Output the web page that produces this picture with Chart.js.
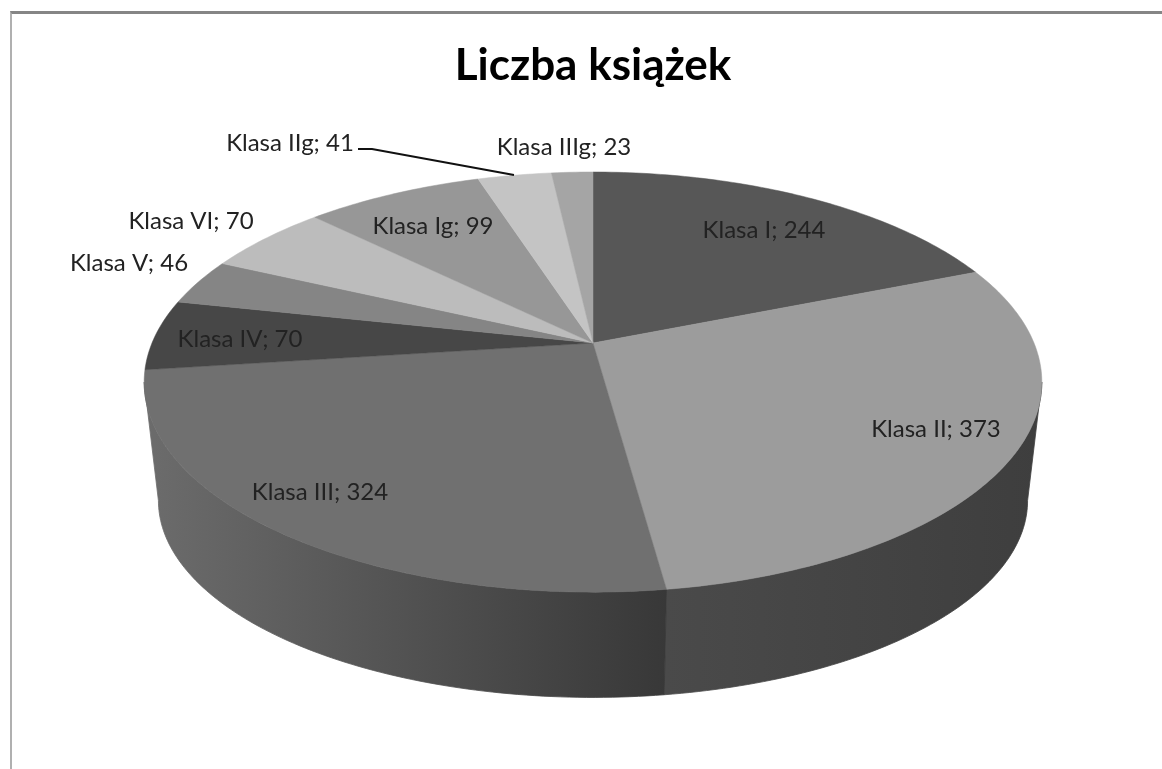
<!DOCTYPE html>
<html lang="pl">
<head>
<meta charset="utf-8">
<title>Liczba książek</title>
<script src="https://cdn.jsdelivr.net/npm/chart.js@4"></script>
<style>
    body { margin: 0; background: #fff; }
    #wrap { position: relative; width: 1162px; height: 769px; overflow: hidden; filter: blur(0.5px); }
    #frame {
        position: absolute; left: 10px; top: 11px; width: 1170px; height: 800px;
        border-left: 2px solid #b0b0b0; border-top: 3px solid #858585;
    }
    canvas { position: absolute; left: 0; top: 0; }
</style>
</head>
<body>
<div id="wrap">
    <div id="frame"></div>
    <canvas id="chart" width="1162" height="769"></canvas>
</div>
<script>
// Dane
const categories = ['Klasa I', 'Klasa II', 'Klasa III', 'Klasa IV', 'Klasa V', 'Klasa VI', 'Klasa Ig', 'Klasa IIg', 'Klasa IIIg'];
const values = [244, 373, 324, 70, 46, 70, 99, 41, 23];
const chartTitle = 'Liczba książek';

// Kolory
const sliceColors = ['#575757', '#9c9c9c', '#707070', '#474747', '#858585', '#bcbcbc', '#979797', '#c4c4c4', '#a5a5a5'];
const sideShades = { 1: ['#4a4a4a', '#3e3e3e'], 2: ['#6c6c6c', '#383838'] };

// Rzut perspektywiczny tarczy (góra i dół walca)
const topDisc = { cx: 593, cy: 343, rx: 441, ry: 202.8, k: 0.186 };
const bottomDisc = { cx: 593, cy: 464, rx: 427, ry: 190, k: 0.186 };

// Środki etykiet
const labelSpots = [[764, 230], [936, 429], [320, 492], [240, 339], [129, 263], [191, 221], [433, 226], [290, 143], [564, 147]];

function project(disc, angle) {
    const d = 1 - disc.k * Math.sin(angle);
    return [disc.cx + disc.rx * Math.cos(angle) / d, disc.cy + disc.ry * Math.sin(angle) / d];
}

function traceArc(ctx, disc, from, to) {
    const steps = Math.max(2, Math.ceil(Math.abs(to - from) * 60));
    for (let i = 0; i <= steps; i++) {
        const p = project(disc, from + (to - from) * i / steps);
        ctx.lineTo(p[0], p[1]);
    }
}

// Dibuja la tarta en 3D a partir de los ángulos que calcula Chart.js
const pie3d = {
    id: 'pie3d',
    beforeDatasetsDraw(chart) {
        const ctx = chart.ctx;
        const arcs = chart.getDatasetMeta(0).data;
        const tangent = Math.asin(topDisc.k); // punkt styczny sylwetki
        ctx.save();

        // boki
        arcs.forEach(function (arc, i) {
            const shades = sideShades[i];
            if (!shades) return;
            const from = Math.max(arc.startAngle, tangent);
            const to = Math.min(arc.endAngle, Math.PI - tangent);
            const a = project(topDisc, from), b = project(topDisc, to);
            const grad = ctx.createLinearGradient(Math.min(a[0], b[0]), 0, Math.max(a[0], b[0]), 0);
            grad.addColorStop(0, shades[0]);
            grad.addColorStop(1, shades[1]);
            ctx.beginPath();
            traceArc(ctx, topDisc, from, to);
            traceArc(ctx, bottomDisc, to, from);
            ctx.closePath();
            ctx.fillStyle = grad;
            ctx.strokeStyle = grad;
            ctx.lineWidth = 0.8;
            ctx.fill();
            ctx.stroke();
        });

        // wierzch
        arcs.forEach(function (arc) {
            ctx.beginPath();
            ctx.moveTo(topDisc.cx, topDisc.cy);
            traceArc(ctx, topDisc, arc.startAngle, arc.endAngle);
            ctx.closePath();
            ctx.fillStyle = arc.options.backgroundColor;
            ctx.strokeStyle = arc.options.backgroundColor;
            ctx.lineWidth = 0.5;
            ctx.fill();
            ctx.stroke();
        });

        // linia odniesienia Klasa IIg
        ctx.beginPath();
        ctx.moveTo(358, 149);
        ctx.lineTo(372, 149);
        ctx.lineTo(514, 175);
        ctx.strokeStyle = '#111';
        ctx.lineWidth = 2;
        ctx.stroke();

        // etykiety
        ctx.font = '24px Lato';
        ctx.fillStyle = '#222';
        ctx.textAlign = 'center';
        ctx.textBaseline = 'middle';
        categories.forEach(function (name, i) {
            ctx.fillText(name + '; ' + values[i], labelSpots[i][0], labelSpots[i][1]);
        });

        ctx.restore();
        return false;
    }
};

new Chart(document.getElementById('chart'), {
    type: 'pie',
    data: {
        labels: categories,
        datasets: [{
            data: values,
            backgroundColor: sliceColors,
            borderWidth: 0
        }]
    },
    options: {
        responsive: false,
        animation: false,
        layout: { padding: { left: 24, top: 39, bottom: 60 } },
        plugins: {
            legend: { display: false },
            tooltip: { enabled: false },
            title: {
                display: true,
                text: chartTitle,
                color: '#000',
                font: { family: 'Lato', size: 44, weight: 'bold' },
                padding: 0
            }
        }
    },
    plugins: [pie3d]
});
</script>
</body>
</html>
